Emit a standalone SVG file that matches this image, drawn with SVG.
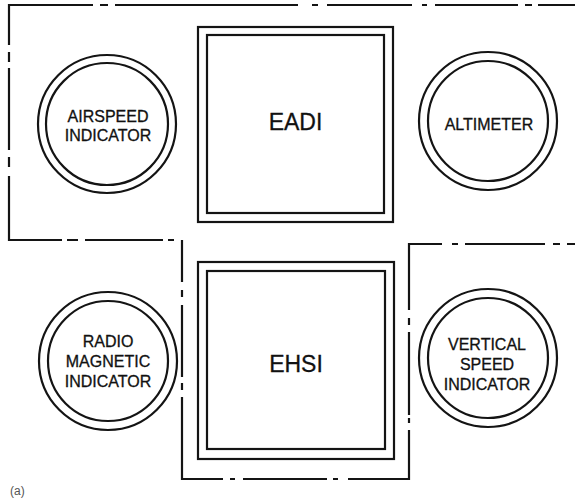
<svg xmlns="http://www.w3.org/2000/svg" width="575" height="499" viewBox="0 0 575 499">
  <style>
    .outline { fill: none; stroke: #141414; stroke-width: 2.2; stroke-linecap: butt; stroke-linejoin: miter; }
    .ring { fill: none; stroke: #141414; stroke-width: 2.2; }
    .frame { fill: none; stroke: #141414; stroke-width: 2.2; }
    .lbl { font-family: "Liberation Sans", Arial, sans-serif; font-size: 16px; fill: #111; stroke: #111; stroke-width: 0.3; text-anchor: middle; }
    .big { font-family: "Liberation Sans", Arial, sans-serif; font-size: 23px; fill: #111; stroke: #111; stroke-width: 0.3; text-anchor: middle; }
    .cap { font-family: "Liberation Sans", Arial, sans-serif; font-size: 12px; fill: #555; }
  </style>
  <rect x="0" y="0" width="575" height="499" fill="#ffffff"/>

  <g id="connectors">
    <path id="panel-outline" class="outline" d="
      M9,45 V5 H93 M100,5 H108 M115,5 H298 M312,5 H318 M327,5 H412 M422,5 H427 M435,5 H518 M525,5 H532 M538,5 H575
      M9,52 V62 M9,68 V150 M9,157 V167
      M9,176 V240 H62 M67,240 H78 M85,240 H163 M168,240 H174
      M182,240 V282 M182,290 V297 M182,305 V377 M182,383 V390
      M182,397 V479 H223 M230,479 H235 M243,479 H327 M333,479 H338
      M348,479 H409 V430 M409,423 V418 M409,415 V332 M409,325 V318
      M409,310 V244 H442 M452,244 H458 M465,244 H545 M553,244 H560 M567,244 H575"/>
  </g>

  <g id="airspeed-indicator">
    <circle class="ring" cx="107" cy="124" r="69"/>
    <circle class="ring" cx="107" cy="124" r="61"/>
    <text class="lbl" x="108" y="122">AIRSPEED</text>
    <text class="lbl" x="108" y="141">INDICATOR</text>
  </g>

  <g id="eadi">
    <rect class="frame" x="198" y="27" width="195" height="195"/>
    <rect class="frame" x="207" y="35" width="177" height="178"/>
    <text class="big" x="295.5" y="130">EADI</text>
  </g>

  <g id="altimeter">
    <circle class="ring" cx="488" cy="121" r="69"/>
    <circle class="ring" cx="488" cy="121" r="60"/>
    <text class="lbl" x="489" y="130">ALTIMETER</text>
  </g>

  <g id="radio-magnetic-indicator">
    <circle class="ring" cx="108" cy="361" r="69"/>
    <circle class="ring" cx="108" cy="361" r="60"/>
    <text class="lbl" x="108" y="347">RADIO</text>
    <text class="lbl" x="108" y="367">MAGNETIC</text>
    <text class="lbl" x="108" y="387">INDICATOR</text>
  </g>

  <g id="ehsi">
    <rect class="frame" x="198" y="262" width="196" height="197"/>
    <rect class="frame" x="207" y="271" width="178" height="178"/>
    <text class="big" x="296" y="372">EHSI</text>
  </g>

  <g id="vertical-speed-indicator">
    <circle class="ring" cx="488" cy="358" r="69"/>
    <circle class="ring" cx="488" cy="358" r="60"/>
    <text class="lbl" x="487" y="350">VERTICAL</text>
    <text class="lbl" x="487" y="370">SPEED</text>
    <text class="lbl" x="487" y="390">INDICATOR</text>
  </g>

  <g id="caption">
    <text class="cap" x="10" y="495">(a)</text>
  </g>
</svg>
